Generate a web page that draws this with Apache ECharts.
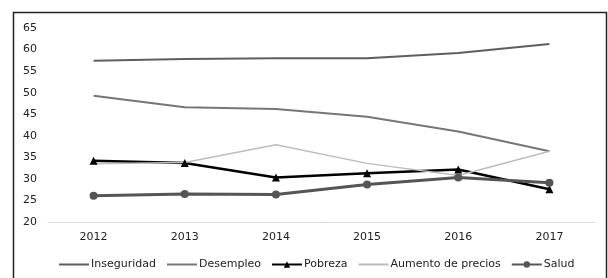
<!DOCTYPE html>
<html><head><meta charset="utf-8">
<script src="https://cdn.jsdelivr.net/npm/echarts@6/dist/echarts.min.js"></script>
<style>html,body{margin:0;padding:0;background:#fff}#c{width:608px;height:278px}</style>
</head><body><div id="c"></div>
<script>
const categories = ['2012','2013','2014','2015','2016','2017'];
const inseguridad = [57.4, 57.8, 58.0, 58.0, 59.2, 61.3];
const desempleo = [49.3, 46.6, 46.2, 44.4, 41.0, 36.4];
const pobreza = [34.2, 33.7, 30.3, 31.3, 32.2, 27.6];
const aumento = [33.5, 33.8, 37.9, 33.6, 30.8, 36.4];
const salud = [26.1, 26.5, 26.4, 28.7, 30.3, 29.1];
const yTicks = {min: 20, max: 65, interval: 5};

const chart = echarts.init(document.getElementById('c'));
const font = 'DejaVu Sans, sans-serif';
const noSym = {itemStyle: {opacity: 0}};
chart.setOption({
  animation: false,
  graphic: [{type:'rect', shape:{x:13.5,y:12.5,width:593,height:275}, style:{fill:'none', stroke:'#222', lineWidth:1.5}, z:-1}],
  grid: {left: 48, right: 13, top: 28, bottom: 56},
  legend: {
    bottom: 3, left: 53, itemWidth: 30, itemHeight: 8, itemGap: 10,
    textStyle: {fontFamily: font, fontSize: 11, color: '#222', padding:[0,0,0,-3]},
    data: [
      Object.assign({name:'Inseguridad'}, noSym),
      Object.assign({name:'Desempleo'}, noSym),
      {name:'Pobreza'},
      Object.assign({name:'Aumento de precios'}, noSym),
      {name:'Salud'}
    ]
  },
  xAxis: {
    type: 'category', data: categories, boundaryGap: true,
    axisLine: {lineStyle: {color: '#d9d9d9', width: 1}},
    axisTick: {show: false},
    axisLabel: {fontFamily: font, fontSize: 11, color: '#222', margin: 10}
  },
  yAxis: {
    type: 'value', min: yTicks.min, max: yTicks.max, interval: yTicks.interval,
    axisLine: {show: false}, axisTick: {show: false}, splitLine: {show: false},
    axisLabel: {fontFamily: font, fontSize: 11, color: '#222', align: 'left', margin: 25}
  },
  series: [
    {name:'Inseguridad', type:'line', data: inseguridad, symbol:'none', lineStyle:{color:'#5e5e5e', width:2}, itemStyle:{color:'#5e5e5e'}},
    {name:'Desempleo', type:'line', data: desempleo, symbol:'none', lineStyle:{color:'#767676', width:2}, itemStyle:{color:'#767676'}},
    {name:'Pobreza', type:'line', data: pobreza, symbol:'triangle', symbolSize:8, lineStyle:{color:'#000', width:2.5}, itemStyle:{color:'#000'}},
    {name:'Aumento de precios', type:'line', data: aumento, symbol:'none', lineStyle:{color:'#bdbdbd', width:1.5}, itemStyle:{color:'#bdbdbd'}},
    {name:'Salud', type:'line', data: salud, symbol:'circle', symbolSize:8, lineStyle:{color:'#555', width:3}, itemStyle:{color:'#555'}}
  ]
});
</script></body></html>
